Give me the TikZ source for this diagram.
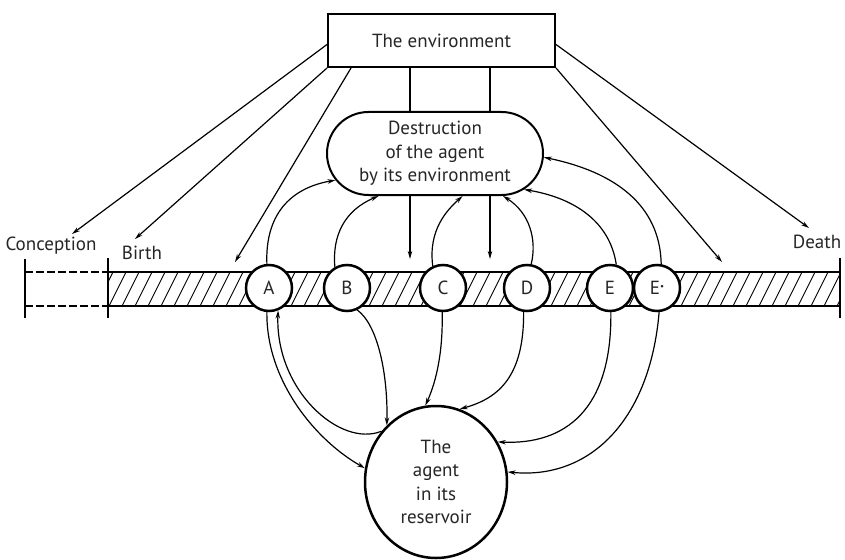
\documentclass[tikz,border=0pt]{standalone}
\usepackage{fontspec}
\setmainfont{PT Sans}
\usetikzlibrary{arrows.meta,shapes.geometric,shapes.misc}
\begin{document}
\begin{tikzpicture}[x=1pt,y=-1pt,
  txt/.style={font=\fontsize{19}{23.5}\selectfont,text=black!85},
  arr/.style={line width=1.2pt,-{Stealth[length=8pt,width=4.5pt]}},
  ln/.style={line width=1.2pt},
  stage/.style={circle,draw,line width=2.5pt,fill=white,minimum size=46pt,inner sep=0pt,txt},
  lbl/.style={inner sep=0pt,txt},
  hatch/.style={line width=0.9pt},
  barline/.style={line width=1.6pt},
  tick/.style={line width=1.8pt}]
\useasboundingbox (0,0) rectangle (845,559);

% bar
\begin{scope}
  \clip (108,272) rectangle (840,306);
  \foreach \x in {96,109,...,850} \draw[hatch] (\x,306) -- ++(17,-34);
\end{scope}
\draw[barline] (108,272) -- (840,272) (108,306) -- (840,306);
\draw[barline,dash pattern=on 8pt off 3pt] (25,272) -- (108,272) (25,306) -- (108,306);
\draw[tick] (25,259) -- (25,318) (108,258) -- (108,318) (840,258) -- (840,318);

% nodes
\node[draw,line width=2pt,minimum width=227pt,minimum height=53pt,txt] (env) at (441.5,40.5) {The environment};
\node[draw,rounded rectangle,line width=2pt,minimum width=216pt,minimum height=83pt,align=center,txt,inner sep=0pt] (dest) at (435,153.5) {Destruction\\of the agent\\by its environment};
\node[ellipse,draw,line width=2.5pt,minimum width=142pt,minimum height=152pt,inner sep=0pt,align=center,txt] (res) at (436,482) {The\\agent\\in its\\reservoir};

\node[lbl] (conc) at (51,246) {Conception};
\node[lbl] (birth) at (142,253) {Birth};
\node[lbl] (death) at (817,242) {Death};

\node[stage] (A) at (269,288) {A};
\node[stage] (B) at (347,288) {B};
\node[stage] (C) at (443,288) {C};
\node[stage] (D) at (527,288) {D};
\node[stage] (E) at (610,288) {E};
\node[stage] (E2) at (657,288) {E\raisebox{5pt}{\fontsize{9}{9}\selectfont\textbullet}};

% free ends
\coordinate (tConc) at (72,234);
\coordinate (tBirth) at (135,239);
\coordinate (tBarL) at (235,262);
\coordinate (tDeath) at (809,228);
\coordinate (tBarR) at (722,262);
\coordinate (v1) at (410,0);
\coordinate (v2) at (490,0);
\coordinate (t1) at (410,259);
\coordinate (t2) at (490,259);

% from environment
\draw[arr] ([yshift=-4pt]env.west) -- (tConc);
\draw[arr] (env.south west) -- (tBirth);
\draw[arr] ([xshift=24pt]env.south west) -- (tBarL);
\draw[arr] ([yshift=-4pt]env.east) -- (tDeath);
\draw[arr] (env.south east) -- (tBarR);
\draw[ln] (env.south -| v1) -- (dest.north -| v1);
\draw[ln] (env.south -| v2) -- (dest.north -| v2);
\draw[arr] (dest.south -| v1) -- (t1);
\draw[arr] (dest.south -| v2) -- (t2);

% up to destruction
\draw[arr] (A.95) .. controls (265,215) and (290,188) .. (dest.195);
\draw[arr] (B.120) .. controls (332,235) and (345,210) .. (dest.217);
\draw[arr] (C.115) .. controls (428,230) and (447,210) .. (dest.303);
\draw[arr] (D.80) .. controls (537,240) and (530,213) .. (dest.328);
\draw[arr] (E.75) .. controls (610,222) and (575,198) .. (dest.338);
\draw[arr] (E2.80) .. controls (660,205) and (615,172) .. (dest.358);

% down to reservoir
\draw[arr] (A.265) .. controls (266,380) and (315,440) .. (res.169);
\draw[arr] (res.137) .. controls (340,448) and (275,390) .. (A.292);
\draw[arr] (B.295) .. controls (378,325) and (388,375) .. (res.131);
\draw[arr] (C.268) .. controls (443,350) and (437,380) .. (res.98);
\draw[arr] (D.262) .. controls (524,375) and (500,398) .. (res.72);
\draw[arr] (E.272) .. controls (612,410) and (565,445) .. (res.33);
\draw[arr] (E2.275) .. controls (650,420) and (590,480) .. (res.8);
\end{tikzpicture}
\end{document}
